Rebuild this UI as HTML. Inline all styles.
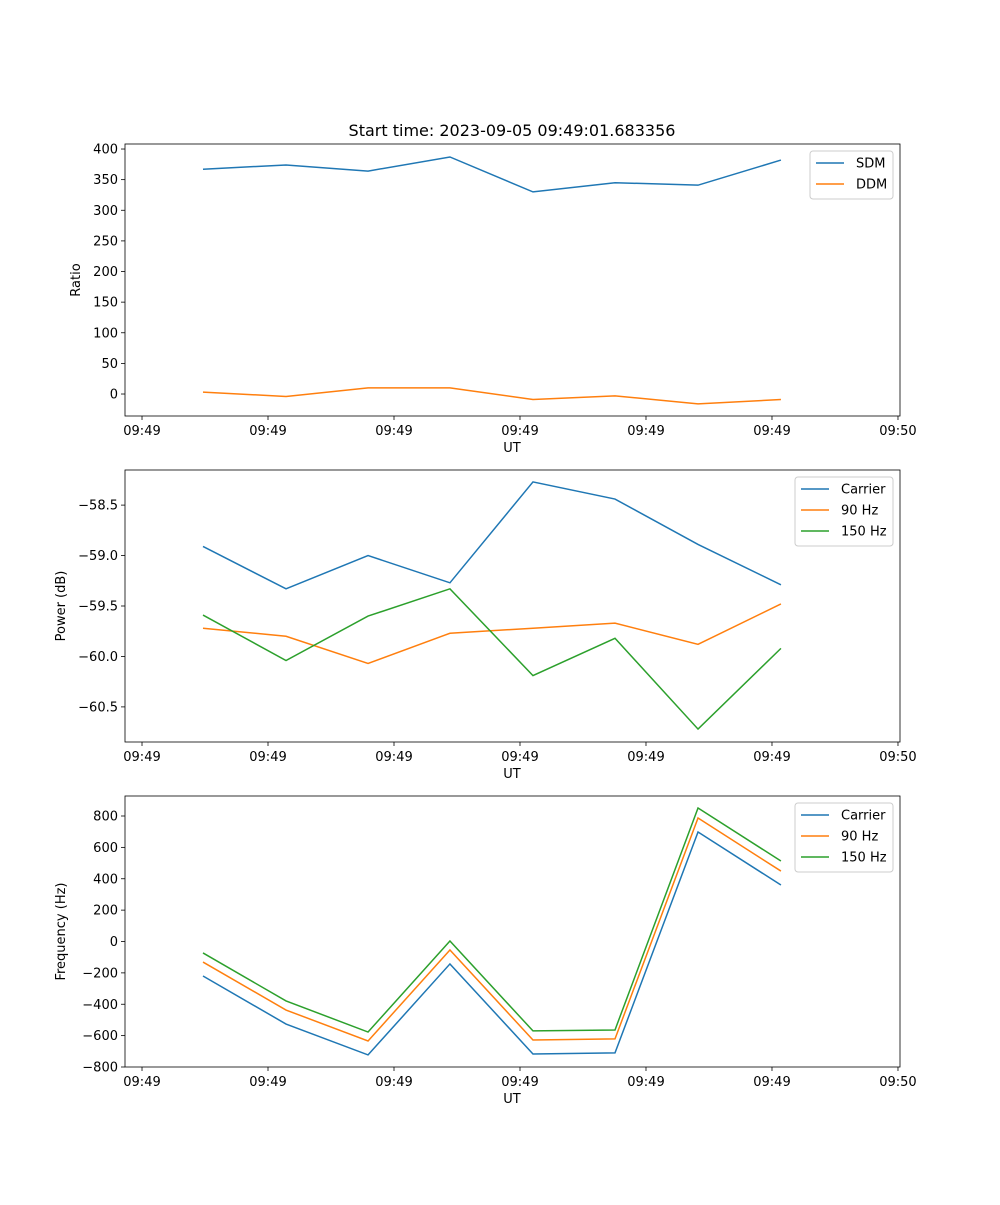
<!DOCTYPE html>
<html><head><meta charset="utf-8"><style>
body{margin:0;background:#fff;}
svg text{font-family:"DejaVu Sans","Liberation Sans",sans-serif;font-size:13px;fill:#000;}
</style></head><body>
<svg id="chart" width="1000" height="1200" xmlns="http://www.w3.org/2000/svg">
<text x="512" y="136" text-anchor="middle" style="font-size:16px">Start time: 2023-09-05 09:49:01.683356</text>
</svg>
<script>
const times=[4.84,11.43,17.94,24.44,31.03,37.54,44.13,50.71];
const xTickVals=[0,10,20,30,40,50,60];
const xTickLabels=["09:49","09:49","09:49","09:49","09:49","09:49","09:50"];
const sdm=[367,374,364,387,330,345,341,382];
const ddm=[3,-4,10,10,-9,-3,-16,-9];
const pwrCarrier=[-58.91,-59.33,-59.0,-59.27,-58.27,-58.44,-58.89,-59.29];
const pwr90=[-59.72,-59.80,-60.07,-59.77,-59.72,-59.67,-59.88,-59.48];
const pwr150=[-59.59,-60.04,-59.60,-59.33,-60.19,-59.82,-60.72,-59.92];
const frqCarrier=[-220,-526,-723,-143,-717,-710,698,360];
const frq90=[-131,-437,-634,-54,-628,-621,787,449];
const frq150=[-73,-379,-577,3,-570,-564,851,513];
const ratioTicks=[0,50,100,150,200,250,300,350,400];
const powerTicks=[-60.5,-60.0,-59.5,-59.0,-58.5];
const powerTickLabels=["\u221260.5","\u221260.0","\u221259.5","\u221259.0","\u221258.5"];
const freqTicks=[-800,-600,-400,-200,0,200,400,600,800];
const freqTickLabels=["\u2212800","\u2212600","\u2212400","\u2212200","0","200","400","600","800"];

const NS="http://www.w3.org/2000/svg";
const svg=document.getElementById('chart');
const L=125,R=900,xmin=-1.35,xmax=60.16;
const xs=v=>L+(v-xmin)/(xmax-xmin)*(R-L);
function mk(tag,attrs,parent){const e=document.createElementNS(NS,tag);for(const k in attrs)e.setAttribute(k,attrs[k]);(parent||svg).appendChild(e);return e;}
const C={blue:"#1f77b4",orange:"#ff7f0e",green:"#2ca02c"};

function panel(name,top,bot,ymin,ymax,yt,ytl,ylabel,series,legX,legW){
  const g=mk('g',{});
  
  
  const ys=v=>bot-(v-ymin)/(ymax-ymin)*(bot-top);
  xTickVals.forEach((v,i)=>{
    const x=xs(v);
    mk('line',{x1:x,x2:x,y1:bot,y2:bot+4,stroke:'#000','stroke-width':0.8},g);
    const t=mk('text',{x:x,y:bot+19,'text-anchor':'middle'},g);t.textContent=xTickLabels[i];
    
    
  });
  yt.forEach((v,i)=>{
    const y=ys(v);
    mk('line',{x1:L-4,x2:L,y1:y,y2:y,stroke:'#000','stroke-width':0.8},g);
    const t=mk('text',{x:L-7,y:y+4.5,'text-anchor':'end'},g);t.textContent=ytl[i];
    
    
  });
  const xl=mk('text',{x:512,y:bot+36,'text-anchor':'middle'},g);xl.textContent='UT';
  
  
  const cy=(top+bot)/2, lx=ylabel==='Ratio'?80:65;
  const yl=mk('text',{x:lx,y:cy,'text-anchor':'middle',transform:`rotate(-90 ${lx} ${cy})`},g);yl.textContent=ylabel;
  
  
  series.forEach(s=>{
    const p=mk('polyline',{points:s.d.map((v,i)=>xs(times[i])+','+ys(v)).join(' '),fill:'none',stroke:s.c,'stroke-width':1.5},g);
    
    
  });
  mk('rect',{x:L,y:top,width:R-L,height:bot-top,fill:'none',stroke:'#000','stroke-width':0.8},g);
  const lg=mk('g',{},g);
  
  
  const ltop=top+7;
  mk('rect',{x:legX,y:ltop,width:legW,height:series.length*21+6,fill:'#fff',stroke:'#ccc',rx:3},lg);
  series.forEach((s,i)=>{
    const y=ltop+12+i*21;
    mk('line',{x1:legX+6,x2:legX+34,y1:y,y2:y,stroke:s.c,'stroke-width':1.5},lg);
    const t=mk('text',{x:legX+46,y:y+4.5},lg);t.textContent=s.n;
    
    
  });
}
panel('ratio',144,416,-35.9,408.2,ratioTicks,ratioTicks.map(String),'Ratio',
  [{n:'SDM',d:sdm,c:C.blue},{n:'DDM',d:ddm,c:C.orange}],810,83);
panel('power',470,742,-60.848,-58.152,powerTicks,powerTickLabels,'Power (dB)',
  [{n:'Carrier',d:pwrCarrier,c:C.blue},{n:'90 Hz',d:pwr90,c:C.orange},{n:'150 Hz',d:pwr150,c:C.green}],795,98);
panel('frequency',796,1067,-800,927.5,freqTicks,freqTickLabels,'Frequency (Hz)',
  [{n:'Carrier',d:frqCarrier,c:C.blue},{n:'90 Hz',d:frq90,c:C.orange},{n:'150 Hz',d:frq150,c:C.green}],795,98);
</script>
</body></html>
